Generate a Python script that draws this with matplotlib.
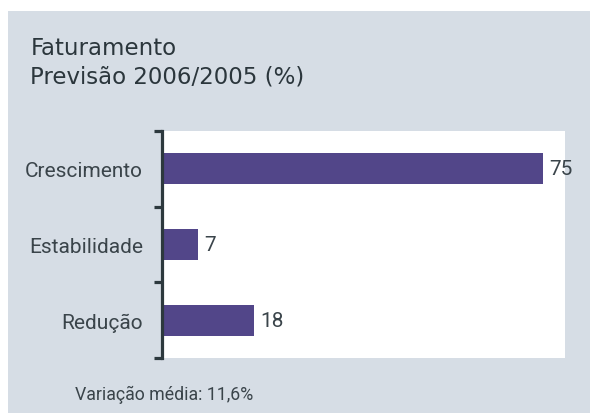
import matplotlib
matplotlib.use("Agg")
import matplotlib.pyplot as plt
from matplotlib.patches import Rectangle

categories = ["Crescimento", "Estabilidade", "Redução"]
values = [75, 7, 18]
title_line1 = "Faturamento"
title_line2 = "Previsão 2006/2005 (%)"
footer = "Variação média: 11,6%"

W, H = 590, 414
fig = plt.figure(figsize=(W / 100, H / 100), dpi=100, facecolor="white")

panel_color = "#d6dde5"
text_color = "#3a444a"
title_color = "#2b363c"
bar_color = "#524689"
axis_color = "#2d393e"

fig.patches.append(Rectangle((8 / W, 0), 1 - 8 / W, (H - 12) / H,
                             transform=fig.transFigure, facecolor=panel_color,
                             edgecolor="none", zorder=-5))

ax = fig.add_axes([162.3 / W, 1 - 359 / H, (565 - 162.3) / W, (359 - 132) / H])
ax.set_zorder(2)
ax.set_facecolor("white")
ypos = list(range(len(categories)))
ax.barh(ypos, values, height=0.41, color=bar_color, zorder=2)
ax.set_xlim(0, 79.3)
ax.set_ylim(len(categories) - 0.5, -0.5)

for s in ["top", "right", "bottom"]:
    ax.spines[s].set_visible(False)
ax.spines["left"].set_color(axis_color)
ax.spines["left"].set_linewidth(2.3)
ax.spines["left"].set_zorder(3)
ax.set_xticks([])
ax.set_yticks(ypos)
ax.set_yticklabels(categories, fontsize=15, family="Roboto", color=text_color)
ax.tick_params(axis="y", which="major", length=0, pad=14)
ax.set_yticks([y - 0.5 for y in ypos] + [ypos[-1] + 0.5], minor=True)
ax.tick_params(axis="y", which="minor", length=5.5, width=2.3, color=axis_color, direction="out")

for y, v in zip(ypos, values):
    ax.annotate(str(v), xy=(v, y), xytext=(4.5, 0), textcoords="offset points",
                ha="left", va="center", fontsize=15, family="Roboto",
                color=text_color, annotation_clip=False)

fig.text(30.5 / W, 1 - 55 / H, title_line1, fontsize=16.5, family="DejaVu Sans",
         color=title_color, va="baseline", ha="left")
fig.text(30.5 / W, 1 - 83 / H, title_line2, fontsize=16.5, family="DejaVu Sans",
         color=title_color, va="baseline", ha="left")
fig.text(75 / W, 1 - 400 / H, footer, fontsize=12.8, family="Roboto",
         color=text_color, va="baseline", ha="left")

fig.savefig("out.png", dpi=100, facecolor="white")
